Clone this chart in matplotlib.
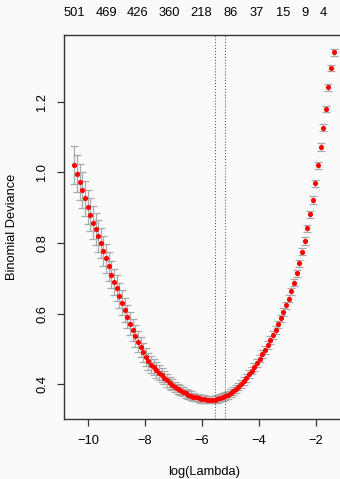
import numpy as np
import matplotlib
matplotlib.use("Agg")
import matplotlib.pyplot as plt

plt.rcParams['font.family'] = ['Liberation Sans', 'DejaVu Sans']

# cross-validated binomial deviance along the lambda path (99 fits)
log_lambda = np.linspace(-10.48, -1.36, 99)  # glmnet grid is evenly spaced in log
cvm = [
    1.021, 0.997, 0.973, 0.950, 0.927, 0.903, 0.880, 0.858, 0.839, 0.820,
    0.800, 0.778, 0.757, 0.734, 0.711, 0.690, 0.672, 0.651, 0.631, 0.611,
    0.592, 0.572, 0.554, 0.537, 0.521, 0.506, 0.491, 0.477, 0.465, 0.456,
    0.449, 0.441, 0.433, 0.426, 0.419, 0.412, 0.405, 0.399, 0.393, 0.388,
    0.383, 0.379, 0.375, 0.371, 0.368, 0.365, 0.363, 0.361, 0.359, 0.358,
    0.357, 0.357, 0.357, 0.357, 0.359, 0.361, 0.364, 0.367, 0.371, 0.376,
    0.381, 0.387, 0.394, 0.401, 0.410, 0.419, 0.429, 0.439, 0.450, 0.461,
    0.473, 0.485, 0.498, 0.511, 0.525, 0.539, 0.554, 0.570, 0.587, 0.605,
    0.624, 0.643, 0.664, 0.688, 0.714, 0.743, 0.775, 0.806, 0.842, 0.881,
    0.922, 0.969, 1.021, 1.072, 1.126, 1.180, 1.241, 1.296, 1.340,
]
cvsd = [
    0.053, 0.052, 0.051, 0.050, 0.049, 0.048, 0.047, 0.046, 0.045, 0.044,
    0.043, 0.042, 0.041, 0.040, 0.039, 0.038, 0.037, 0.036, 0.035, 0.034,
    0.033, 0.032, 0.031, 0.030, 0.029, 0.028, 0.027, 0.026, 0.025, 0.024,
    0.023, 0.022, 0.021, 0.020, 0.019, 0.018, 0.017, 0.016, 0.015, 0.014,
    0.014, 0.013, 0.013, 0.012, 0.012, 0.012, 0.011, 0.011, 0.011, 0.011,
    0.011, 0.011, 0.011, 0.011, 0.011, 0.011, 0.011, 0.011, 0.011, 0.011,
    0.011, 0.011, 0.011, 0.011, 0.011, 0.011, 0.011, 0.011, 0.011, 0.011,
    0.011, 0.011, 0.011, 0.011, 0.011, 0.011, 0.011, 0.010, 0.010, 0.010,
    0.010, 0.010, 0.010, 0.010, 0.010, 0.010, 0.010, 0.010, 0.010, 0.010,
    0.010, 0.010, 0.010, 0.010, 0.010, 0.009, 0.009, 0.009, 0.009,
]

# number of nonzero coefficients shown on top (index into the lambda path)
nz_index = [0, 12, 24, 36, 48, 59, 69, 79, 87, 94]
nz_labels = ['501', '469', '426', '360', '218', '86', '37', '15', '9', '4']

idx_min = 53   # lambda.min
idx_1se = 57   # lambda.1se

bg = '#fafafa'
fs = 9.3
fig = plt.figure(figsize=(3.4, 4.79), dpi=100, facecolor=bg)
ax = fig.add_axes([64 / 340, 1 - 419 / 479, 280 / 340, (419 - 34.7) / 479])
ax.set_facecolor(bg)

ax.errorbar(log_lambda, cvm, yerr=cvsd, fmt='none', ecolor='#a9a9a9',
            elinewidth=0.9, capsize=2.6, capthick=0.9, zorder=2)
ax.plot(log_lambda, cvm, 'o', color='red', markersize=3.7,
        markeredgewidth=0, zorder=3)

ax.axvline(log_lambda[idx_min], color='#444444', linestyle=(0, (1, 2)), lw=0.7)
ax.axvline(log_lambda[idx_1se], color='#444444', linestyle=(0, (1, 2)), lw=0.7)

ax.set_xlim(-10.844, -1.0)
ax.set_ylim(0.302, 1.39)
ax.set_xticks([-10, -8, -6, -4, -2])
ax.set_xticklabels(['\u221210', '\u22128', '\u22126', '\u22124', '\u22122'])
ax.set_yticks([0.4, 0.6, 0.8, 1.0, 1.2])
ax.set_yticklabels(['0.4', '0.6', '0.8', '1.0', '1.2'], rotation=90, va='center')
ax.tick_params(length=5, width=0.9, pad=6.5, labelsize=fs, color='#333333')

for side in ['left', 'right', 'top', 'bottom']:
    ax.spines[side].set_color('#333333')
    ax.spines[side].set_linewidth(1.0)

top = ax.secondary_xaxis('top')
top.set_xticks([log_lambda[i] for i in nz_index])
top.set_xticklabels(nz_labels)
top.tick_params(length=0, pad=11.5, labelsize=fs)
top.spines['top'].set_visible(False)

ax.set_xlabel('log(Lambda)', fontsize=fs)
ax.set_ylabel('Binomial Deviance', fontsize=fs)
ax.xaxis.set_label_coords(0.5, -(471.7 - 419) / 384.3)
ax.xaxis.label.set_va('center')
ax.yaxis.set_label_coords(-(64 - 12) / 280, 0.5)
ax.yaxis.label.set_va('center')

fig.savefig('out.png', dpi=100, facecolor=bg)
